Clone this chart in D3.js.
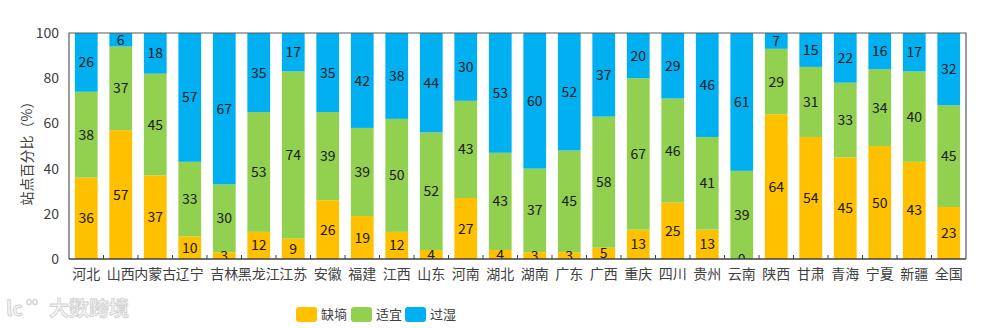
<!DOCTYPE html>
<html><head><meta charset="utf-8">
<script src="https://cdn.jsdelivr.net/npm/d3@7/dist/d3.min.js"></script>
<style>body{margin:0;background:#fff;} svg{display:block;font-family:"Noto Sans CJK SC","Noto Sans",sans-serif;}</style>
</head><body><svg id="c" width="1000" height="328"></svg>
<script>
const categories = ["河北","山西","内蒙古","辽宁","吉林","黑龙江","江苏","安徽","福建","江西","山东","河南","湖北","湖南","广东","广西","重庆","四川","贵州","云南","陕西","甘肃","青海","宁夏","新疆","全国"];
const deficit  = [36,57,37,10,3,12,9,26,19,12,4,27,4,3,3,5,13,25,13,0,64,54,45,50,43,23];
const suitable = [38,37,45,33,30,53,74,39,39,50,52,43,43,37,45,58,67,46,41,39,29,31,33,34,40,45];
const wet      = [26,6,18,57,67,35,17,35,42,38,44,30,53,60,52,37,20,29,46,61,7,15,22,16,17,32];
const seriesNames = ["缺墒","适宜","过湿"];
const colors = ["#FFC000","#92D050","#00B0F0"];
const yTicks = [0,20,40,60,80,100];

const svg = d3.select("#c");
const m = {l:69, r:966, t:33, b:259};
const x = d3.scaleBand().domain(categories).range([m.l, m.r]).paddingInner(0.34).paddingOuter(0.17);
const y = d3.scaleLinear().domain([0,100]).range([m.b, m.t]);

const rows = categories.map((c,i)=>({cat:c, "缺墒":deficit[i], "适宜":suitable[i], "过湿":wet[i]}));
const stack = d3.stack().keys(seriesNames)(rows);

svg.append("defs").append("clipPath").attr("id","clip")
  .append("rect").attr("x",m.l).attr("y",m.t).attr("width",m.r-m.l).attr("height",m.b-m.t);

const g = svg.append("g");
stack.forEach((s,si)=>{
  g.selectAll(null).data(s).enter().append("rect")
    .attr("x",d=>x(d.data.cat)).attr("width",x.bandwidth())
    .attr("y",d=>y(d[1])).attr("height",d=>y(d[0])-y(d[1]))
    .attr("fill",colors[si]);
});
const lg = svg.append("g").attr("clip-path","url(#clip)");
stack.forEach((s,si)=>{
  lg.selectAll(null).data(s).enter().append("text")
    .attr("x",d=>x(d.data.cat)+x.bandwidth()/2)
    .attr("y",d=>(y(d[0])+y(d[1]))/2)
    .attr("dy","0.36em").attr("text-anchor","middle")
    .attr("font-size",14).attr("fill","#1a1a1a")
    .text(d=>d[1]-d[0]);
});

// frame
svg.append("path").attr("d",`M${m.l},${m.b}V${m.t}H${m.r}V${m.b}`).attr("fill","none").attr("stroke","#595959").attr("stroke-width",1.2);
svg.append("line").attr("x1",m.l).attr("x2",m.r).attr("y1",m.b).attr("y2",m.b).attr("stroke","#404040").attr("stroke-width",1.5);
// category boundary ticks
const bounds = d3.range(1,categories.length).map(i=>m.l + i*(m.r-m.l)/categories.length);
svg.selectAll(null).data(bounds).enter().append("line")
  .attr("x1",d=>d).attr("x2",d=>d).attr("y1",m.b).attr("y2",m.b-4)
  .attr("stroke","#404040").attr("stroke-width",1);

// y tick labels
svg.selectAll(null).data(yTicks).enter().append("text")
  .attr("x",m.l-10).attr("y",d=>y(d)).attr("dy","0.36em").attr("text-anchor","end")
  .attr("font-size",14).attr("fill","#404040").text(d=>d);
// x labels
svg.selectAll(null).data(categories).enter().append("text")
  .attr("x",d=>x(d)+x.bandwidth()/2).attr("y",274).attr("dy","0.36em").attr("text-anchor","middle")
  .attr("font-size",14).attr("fill","#404040").text(d=>d);
// y title
svg.append("text").attr("transform","translate(27,150) rotate(-90)").attr("text-anchor","middle")
  .attr("dy","0.36em").attr("font-size",14).attr("fill","#404040").text("站点百分比（%）");

// legend
const legX = [296,351,405];
seriesNames.forEach((n,i)=>{
  svg.append("rect").attr("x",legX[i]).attr("y",307).attr("width",21).attr("height",15).attr("rx",3).attr("fill",colors[i]);
  svg.append("text").attr("x",legX[i]+25).attr("y",314.5).attr("dy","0.36em").attr("font-size",13).attr("fill","#404040").text(n);
});

// watermark
svg.append("text").attr("x",6).attr("y",309).attr("dy","0.36em").attr("font-size",20).attr("font-weight","bold")
  .attr("fill","#f4f4f4").attr("stroke","#d0d0d0").attr("stroke-width",0.8).text("lc");
svg.append("text").attr("x",26).attr("y",301).attr("dy","0.36em").attr("font-size",10)
  .attr("fill","#f4f4f4").attr("stroke","#d0d0d0").attr("stroke-width",0.6).text("oo");
svg.append("text").attr("x",49).attr("y",309).attr("dy","0.36em").attr("font-size",20).attr("font-weight","bold")
  .attr("fill","#f4f4f4").attr("stroke","#d0d0d0").attr("stroke-width",0.8).text("大数跨境");
</script></body></html>
